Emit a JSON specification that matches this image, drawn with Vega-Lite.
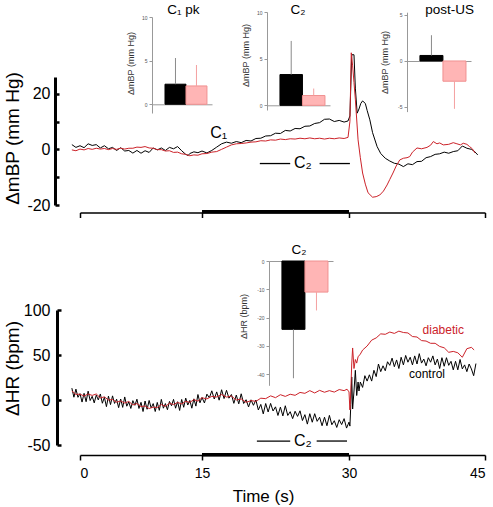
{
"$schema": "https://vega.github.io/schema/vega-lite/v6.json",
"width": 493, "height": 507, "autosize": "none", "padding": 0,
"background": "white",
"config": {"view": {"stroke": null}, "axis": {"grid": false, "labelFont": "Liberation Sans", "titleFont": "Liberation Sans", "titleFontWeight": "normal"}, "text": {"font": "Liberation Sans"}},
"datasets": {
"bpC": [{"t":-1.0,"v":1.7},{"t":-0.5,"v":0.7},{"t":0,"v":1.3},{"t":0.5,"v":0.6},{"t":1.0,"v":2.0},{"t":1.5,"v":1.4},{"t":2.0,"v":1.7},{"t":2.5,"v":0.5},{"t":3.0,"v":1.3},{"t":3.5,"v":0.2},{"t":4.0,"v":0.7},{"t":4.5,"v":-0.4},{"t":5.0,"v":0.6},{"t":5.5,"v":-0.6},{"t":6.0,"v":-0.4},{"t":6.5,"v":-1.35},{"t":7.0,"v":-0.4},{"t":7.5,"v":-1.4},{"t":8.0,"v":-0.5},{"t":8.5,"v":-1.1},{"t":9.0,"v":0.5},{"t":9.5,"v":-0.2},{"t":10.0,"v":0.5},{"t":10.5,"v":-0.4},{"t":11.0,"v":0.7},{"t":11.5,"v":0.2},{"t":12.0,"v":1.0},{"t":12.5,"v":-0.5},{"t":13.0,"v":-1.8},{"t":13.3,"v":-2.2},{"t":13.5,"v":-1.5},{"t":14.0,"v":-0.9},{"t":14.5,"v":-1.2},{"t":15.0,"v":-0.6},{"t":15.5,"v":-1.3},{"t":16.0,"v":-0.4},{"t":16.5,"v":0.8},{"t":17.0,"v":2.0},{"t":17.5,"v":2.6},{"t":18.0,"v":2.2},{"t":18.5,"v":2.8},{"t":19.0,"v":2.4},{"t":19.5,"v":3.2},{"t":20.0,"v":3.0},{"t":20.5,"v":3.9},{"t":21.0,"v":4.0},{"t":21.5,"v":4.8},{"t":22.0,"v":4.9},{"t":22.5,"v":5.8},{"t":23.0,"v":5.7},{"t":23.5,"v":6.8},{"t":24.0,"v":6.6},{"t":24.5,"v":7.5},{"t":25.0,"v":7.4},{"t":25.5,"v":8.3},{"t":26.0,"v":8.4},{"t":26.5,"v":9.3},{"t":27.0,"v":9.6},{"t":27.5,"v":10.8},{"t":28.0,"v":10.9},{"t":28.5,"v":10.0},{"t":29.0,"v":10.4},{"t":29.5,"v":9.8},{"t":29.9,"v":10.2},{"t":30.1,"v":12},{"t":30.3,"v":34},{"t":30.55,"v":34},{"t":30.7,"v":22},{"t":30.9,"v":13},{"t":31.1,"v":14.5},{"t":31.3,"v":16.5},{"t":31.5,"v":17.4},{"t":31.8,"v":16.5},{"t":32.0,"v":14},{"t":32.3,"v":10.6},{"t":32.6,"v":6},{"t":33.1,"v":1},{"t":33.5,"v":-1.5},{"t":34.0,"v":-3.2},{"t":34.5,"v":-4.2},{"t":35.0,"v":-5.0},{"t":35.5,"v":-5.3},{"t":36.0,"v":-6.2},{"t":36.5,"v":-5.2},{"t":37.0,"v":-5.5},{"t":37.5,"v":-4.4},{"t":38.0,"v":-4.3},{"t":38.5,"v":-3.0},{"t":39.0,"v":-2.6},{"t":39.5,"v":-1.8},{"t":40.0,"v":-1.6},{"t":40.5,"v":-1.0},{"t":41.0,"v":-1.4},{"t":41.5,"v":-0.8},{"t":42.0,"v":-0.5},{"t":42.5,"v":1.2},{"t":43.0,"v":0.4},{"t":43.5,"v":0.0},{"t":43.8,"v":-0.6},{"t":44.2,"v":-2}],
"bpD": [{"t":-1.0,"v":-0.2},{"t":-0.5,"v":-0.5},{"t":0,"v":0.1},{"t":0.5,"v":-0.2},{"t":1.0,"v":0.3},{"t":1.5,"v":0.0},{"t":2.0,"v":0.4},{"t":2.5,"v":0.1},{"t":3.0,"v":0.3},{"t":3.5,"v":-0.1},{"t":4.0,"v":0.3},{"t":4.5,"v":0.0},{"t":5.0,"v":0.4},{"t":5.5,"v":0.1},{"t":6.0,"v":0.4},{"t":6.5,"v":0.4},{"t":7.0,"v":0.8},{"t":7.5,"v":0.7},{"t":8.0,"v":1.0},{"t":8.5,"v":0.5},{"t":9.0,"v":0.4},{"t":9.5,"v":-0.1},{"t":10.0,"v":-0.1},{"t":10.5,"v":-0.6},{"t":11.0,"v":-0.5},{"t":11.5,"v":-1.1},{"t":12.0,"v":-1.0},{"t":12.5,"v":-1.6},{"t":13.0,"v":-1.8},{"t":13.5,"v":-2.3},{"t":14.0,"v":-2.0},{"t":14.5,"v":-2.1},{"t":15.0,"v":-1.6},{"t":15.5,"v":-1.5},{"t":16.0,"v":-1.0},{"t":16.5,"v":-0.8},{"t":17.0,"v":0.0},{"t":17.5,"v":0.8},{"t":18.0,"v":1.6},{"t":18.5,"v":2.0},{"t":19.0,"v":2.1},{"t":19.5,"v":2.3},{"t":20.0,"v":2.6},{"t":20.5,"v":2.7},{"t":21.0,"v":3.1},{"t":21.5,"v":3.0},{"t":22.0,"v":3.4},{"t":22.5,"v":3.3},{"t":23.0,"v":3.7},{"t":23.5,"v":3.5},{"t":24.0,"v":3.8},{"t":24.5,"v":3.7},{"t":25.0,"v":4.0},{"t":25.5,"v":3.8},{"t":26.0,"v":4.1},{"t":26.5,"v":3.8},{"t":27.0,"v":4.0},{"t":27.5,"v":3.7},{"t":28.0,"v":4.0},{"t":28.5,"v":3.8},{"t":29.0,"v":4.1},{"t":29.5,"v":3.9},{"t":29.9,"v":4.3},{"t":30.1,"v":10},{"t":30.25,"v":34.7},{"t":30.4,"v":30},{"t":30.55,"v":24},{"t":30.7,"v":18},{"t":31.0,"v":3.4},{"t":31.25,"v":-3},{"t":31.5,"v":-8.5},{"t":31.8,"v":-12.5},{"t":32.1,"v":-15.6},{"t":32.6,"v":-17.2},{"t":33.0,"v":-17},{"t":33.4,"v":-16.4},{"t":33.8,"v":-15},{"t":34.2,"v":-12.8},{"t":34.5,"v":-10.8},{"t":34.85,"v":-8.5},{"t":35.2,"v":-6},{"t":35.6,"v":-3.8},{"t":36.0,"v":-3.2},{"t":36.4,"v":-3.0},{"t":36.7,"v":-2.6},{"t":37.0,"v":-1.0},{"t":37.5,"v":0.5},{"t":38.0,"v":0.2},{"t":38.6,"v":0.7},{"t":39.0,"v":1.5},{"t":39.3,"v":2.8},{"t":39.7,"v":2.0},{"t":40.0,"v":2.3},{"t":40.4,"v":1.6},{"t":41.0,"v":1.8},{"t":41.5,"v":2.4},{"t":41.9,"v":2.0},{"t":42.3,"v":1.6},{"t":42.6,"v":2.2},{"t":43.0,"v":1.8},{"t":43.3,"v":1.0},{"t":43.6,"v":0.2},{"t":43.9,"v":-1.3}],
"hrC": [{"t":-1.0,"v":13.2},{"t":-0.75,"v":3.1},{"t":-0.5,"v":12.1},{"t":-0.25,"v":3.0},{"t":0,"v":7.0},{"t":0.25,"v":-2.3},{"t":0.5,"v":7.4},{"t":0.75,"v":-1.9},{"t":1.0,"v":9.8},{"t":1.25,"v":-0.6},{"t":1.5,"v":4.1},{"t":1.75,"v":-3.2},{"t":2.0,"v":5.4},{"t":2.25,"v":0.1},{"t":2.5,"v":6.7},{"t":2.75,"v":-3.6},{"t":3.0,"v":3.0},{"t":3.25,"v":-7.4},{"t":3.5,"v":4.3},{"t":3.75,"v":-5.1},{"t":4.0,"v":4.6},{"t":4.25,"v":-3.8},{"t":4.5,"v":0.9},{"t":4.75,"v":-8.5},{"t":5.0,"v":1.1},{"t":5.25,"v":-8.2},{"t":5.5,"v":3.4},{"t":5.75,"v":-6.9},{"t":6.0,"v":-2.2},{"t":6.25,"v":-9.4},{"t":6.5,"v":-0.7},{"t":6.75,"v":-5.9},{"t":7.0,"v":0.9},{"t":7.25,"v":-9.4},{"t":7.5,"v":-2.6},{"t":7.75,"v":-12.8},{"t":8.0,"v":-1.1},{"t":8.25,"v":-10.3},{"t":8.5,"v":-0.5},{"t":8.75,"v":-8.8},{"t":9.0,"v":-4.0},{"t":9.25,"v":-12.8},{"t":9.5,"v":-2.7},{"t":9.75,"v":-11.5},{"t":10.0,"v":0.7},{"t":10.25,"v":-9.1},{"t":10.5,"v":-4.0},{"t":10.75,"v":-10.8},{"t":11.0,"v":-1.6},{"t":11.25,"v":-6.4},{"t":11.5,"v":0.7},{"t":11.75,"v":-9.1},{"t":12.0,"v":-1.9},{"t":12.25,"v":-11.6},{"t":12.5,"v":0.6},{"t":12.75,"v":-8.1},{"t":13.0,"v":2.1},{"t":13.25,"v":-5.6},{"t":13.5,"v":-0.4},{"t":13.75,"v":-9.1},{"t":14.0,"v":1.3},{"t":14.25,"v":-6.8},{"t":14.5,"v":6.1},{"t":14.75,"v":-3.1},{"t":15.0,"v":2.8},{"t":15.25,"v":-3.3},{"t":15.5,"v":6.5},{"t":15.75,"v":2.4},{"t":16.0,"v":10.2},{"t":16.25,"v":1.1},{"t":16.5,"v":9.0},{"t":16.75,"v":-0.2},{"t":17.0,"v":11.4},{"t":17.25,"v":1.6},{"t":17.5,"v":10.8},{"t":17.75,"v":2.0},{"t":18.0,"v":6.1},{"t":18.25,"v":-3.7},{"t":18.5,"v":5.5},{"t":18.75,"v":-4.3},{"t":19.0,"v":6.9},{"t":19.25,"v":-3.9},{"t":19.5,"v":0.3},{"t":19.75,"v":-7.7},{"t":20.0,"v":0.2},{"t":20.25,"v":-5.9},{"t":20.5,"v":0.0},{"t":20.75,"v":-11.1},{"t":21.0,"v":-4.9},{"t":21.25,"v":-15.4},{"t":21.5,"v":-3.9},{"t":21.75,"v":-13.3},{"t":22.0,"v":-3.8},{"t":22.25,"v":-12.2},{"t":22.5,"v":-7.6},{"t":22.75,"v":-17.2},{"t":23.0,"v":-7.9},{"t":23.25,"v":-17.7},{"t":23.5,"v":-6.4},{"t":23.75,"v":-17.2},{"t":24.0,"v":-13.0},{"t":24.25,"v":-20.7},{"t":24.5,"v":-12.5},{"t":24.75,"v":-18.2},{"t":25.0,"v":-12.0},{"t":25.25,"v":-22.8},{"t":25.5,"v":-16.3},{"t":25.75,"v":-26.8},{"t":26.0,"v":-15.2},{"t":26.25,"v":-24.7},{"t":26.5,"v":-15.2},{"t":26.75,"v":-23.7},{"t":27.0,"v":-19.2},{"t":27.25,"v":-28.6},{"t":27.5,"v":-19.1},{"t":27.75,"v":-28.6},{"t":28.0,"v":-17.1},{"t":28.25,"v":-27.5},{"t":28.5,"v":-23.0},{"t":28.75,"v":-30.5},{"t":29.0,"v":-21.9},{"t":29.25,"v":-27.3},{"t":29.5,"v":-20.7},{"t":29.75,"v":-31.2},{"t":30.0,"v":-24.6},{"t":30.1,"v":-29},{"t":30.2,"v":-5},{"t":30.3,"v":25.6},{"t":30.4,"v":-10},{"t":30.55,"v":10},{"t":30.7,"v":33},{"t":30.85,"v":5},{"t":31.0,"v":20},{"t":31.1,"v":10},{"t":31.25,"v":20},{"t":31.5,"v":14},{"t":31.75,"v":27},{"t":32.0,"v":21},{"t":32.25,"v":28},{"t":32.5,"v":21},{"t":32.75,"v":33},{"t":33.0,"v":26},{"t":33.25,"v":40},{"t":33.5,"v":31.5},{"t":33.75,"v":38},{"t":34.0,"v":32.5},{"t":34.25,"v":42.5},{"t":34.5,"v":38.5},{"t":34.75,"v":46.5},{"t":35.0,"v":37},{"t":35.25,"v":44.5},{"t":35.5,"v":35},{"t":35.75,"v":47.5},{"t":36.0,"v":39},{"t":36.25,"v":49.5},{"t":36.5,"v":42},{"t":36.75,"v":47.5},{"t":37.0,"v":39},{"t":37.25,"v":49},{"t":37.5,"v":40},{"t":37.75,"v":51.5},{"t":38.0,"v":41},{"t":38.25,"v":45.5},{"t":38.5,"v":38},{"t":38.75,"v":47},{"t":39.0,"v":42},{"t":39.25,"v":49},{"t":39.5,"v":39},{"t":39.75,"v":45.5},{"t":40.0,"v":35},{"t":40.25,"v":47},{"t":40.5,"v":37.5},{"t":40.75,"v":47},{"t":41.0,"v":38.5},{"t":41.25,"v":43},{"t":41.5,"v":33.5},{"t":41.75,"v":43},{"t":42.0,"v":33.5},{"t":42.25,"v":45},{"t":42.5,"v":34.5},{"t":42.75,"v":39},{"t":43.0,"v":31.5},{"t":43.25,"v":40},{"t":43.5,"v":34.5},{"t":43.75,"v":27},{"t":44.0,"v":40.5}],
"hrD": [{"t":-1.0,"v":10},{"t":-0.5,"v":6.2},{"t":0,"v":6.5},{"t":0.5,"v":4.4},{"t":1.0,"v":6.7},{"t":1.5,"v":5.1},{"t":2.0,"v":6.7},{"t":2.5,"v":2.3},{"t":3.0,"v":3.5},{"t":3.5,"v":0},{"t":4.0,"v":0.5},{"t":4.5,"v":-2.5},{"t":5.0,"v":-1},{"t":5.5,"v":-3.4},{"t":6.0,"v":-1.6},{"t":6.5,"v":-5.5},{"t":7.0,"v":-3.9},{"t":7.5,"v":-7.3},{"t":8.0,"v":-6.6},{"t":8.5,"v":-9.5},{"t":9.0,"v":-7.9},{"t":9.5,"v":-8.4},{"t":10.0,"v":-5},{"t":10.5,"v":-7.1},{"t":11.0,"v":-3.6},{"t":11.5,"v":-5.1},{"t":12.0,"v":-2.7},{"t":12.5,"v":-4.4},{"t":13.0,"v":-1.5},{"t":13.5,"v":-2.7},{"t":14.0,"v":0.4},{"t":14.5,"v":-1.3},{"t":15.0,"v":2.5},{"t":15.5,"v":1.2},{"t":16.0,"v":4},{"t":16.5,"v":3.3},{"t":17.0,"v":6.1},{"t":17.5,"v":3.2},{"t":18.0,"v":4.4},{"t":18.5,"v":0},{"t":19.0,"v":1.2},{"t":19.5,"v":-2.6},{"t":20.0,"v":-0.7},{"t":20.5,"v":-1.5},{"t":21.0,"v":2},{"t":21.5,"v":1.5},{"t":22.0,"v":4.6},{"t":22.5,"v":2.6},{"t":23.0,"v":5.9},{"t":23.5,"v":4},{"t":24.0,"v":6.4},{"t":24.5,"v":5.2},{"t":25.0,"v":8.4},{"t":25.5,"v":7.4},{"t":26.0,"v":10.4},{"t":26.5,"v":7.8},{"t":27.0,"v":10.7},{"t":27.5,"v":8.6},{"t":28.0,"v":10.4},{"t":28.5,"v":8.8},{"t":29.0,"v":11.6},{"t":29.5,"v":10.4},{"t":29.8,"v":12},{"t":30.0,"v":9},{"t":30.1,"v":-11},{"t":30.2,"v":10},{"t":30.3,"v":40},{"t":30.4,"v":57.8},{"t":30.55,"v":35},{"t":30.7,"v":45},{"t":30.85,"v":41},{"t":31.0,"v":48},{"t":31.25,"v":51},{"t":31.5,"v":55.5},{"t":32.0,"v":60},{"t":32.5,"v":66.5},{"t":33.0,"v":69},{"t":33.5,"v":73.5},{"t":34.0,"v":73},{"t":34.5,"v":75.5},{"t":35.0,"v":74},{"t":35.5,"v":76.5},{"t":36.0,"v":75},{"t":36.5,"v":74.5},{"t":37.0,"v":70.5},{"t":37.5,"v":70},{"t":38.0,"v":66},{"t":38.5,"v":65.5},{"t":39.0,"v":63},{"t":39.5,"v":63},{"t":40.0,"v":59.5},{"t":40.5,"v":58},{"t":41.0,"v":53},{"t":41.5,"v":54},{"t":42.0,"v":52.5},{"t":42.5,"v":47.5},{"t":43.0,"v":57},{"t":43.5,"v":58.5},{"t":43.8,"v":55.6}],
"b1": [{"g":"control","v":2.3,"e":5.3},{"g":"diabetic","v":2.1,"e":4.5}],
"b2": [{"g":"control","v":3.3,"e":6.9},{"g":"diabetic","v":1.05,"e":1.8}],
"b3": [{"g":"control","v":0.6,"e":2.8},{"g":"diabetic","v":-2.2,"e":-5.2}],
"b4": [{"g":"control","v":-24.2,"e":-41.5},{"g":"diabetic","v":-11,"e":-17.5}]
},
"resolve": {"scale": {"x": "independent", "y": "independent"}},
"layer": [
{"layer": [
 {"data": {"name": "bpC"}, "mark": {"type": "line", "color": "#000000", "strokeWidth": 1},
  "encoding": {
   "x": {"field": "t", "type": "quantitative", "scale": {"domain": [0,15,30,45], "range": [80,202,349,485], "nice": false, "zero": false},
     "axis": {"orient": "bottom", "offset": -294.5, "values": [0,15,30,45], "labels": false, "title": null, "domainColor": "#000", "domainWidth": 1.5, "tickColor": "#000", "tickWidth": 1.5, "tickSize": 5}},
   "y": {"field": "v", "type": "quantitative", "scale": {"domain": [-20,26], "range": [205,77], "nice": false, "zero": false},
     "axis": {"orient": "left", "offset": -55, "values": [-20,-10,0,10,20], "labelExpr": "datum.value % 20 == 0 ? '' + datum.value : ''", "domainColor": "#000", "domainWidth": 3, "tickColor": "#000", "tickWidth": 2.5, "tickSize": -4, "labelFontSize": 16, "labelColor": "#000", "labelPadding": 9, "title": "ΔmBP (mm Hg)", "titleFontSize": 19, "titleColor": "#000", "titleX": -43, "titleY": 138, "titleAngle": -90, "titleAlign": "center", "titleBaseline": "middle"}}}},
 {"data": {"name": "bpD"}, "mark": {"type": "line", "color": "#cc2229", "strokeWidth": 1},
  "encoding": {"x": {"field": "t", "type": "quantitative"}, "y": {"field": "v", "type": "quantitative"}}},
 {"data": {"values": [{"t": 15, "t2": 30, "v": -22.4}]}, "mark": {"type": "rule", "color": "#000", "strokeWidth": 3.5},
  "encoding": {"x": {"field": "t", "type": "quantitative"}, "x2": {"field": "t2"}, "y": {"field": "v", "type": "quantitative"}}},
 {"data": {"values": [{"t": 20.9, "t2": 24.0, "v": -5.1}, {"t": 27.0, "t2": 30.1, "v": -5.1}]}, "mark": {"type": "rule", "color": "#000", "strokeWidth": 1.3},
  "encoding": {"x": {"field": "t", "type": "quantitative"}, "x2": {"field": "t2"}, "y": {"field": "v", "type": "quantitative"}}},
 {"data": {"values": [{"t": 16.7, "v": 5.9, "label": "C₁"}, {"t": 25.3, "v": -4.9, "label": "C₂"}]}, "mark": {"type": "text", "fontSize": 16, "align": "center", "baseline": "middle", "color": "#000"},
  "encoding": {"x": {"field": "t", "type": "quantitative"}, "y": {"field": "v", "type": "quantitative"}, "text": {"field": "label"}}},
 {"data": {"values": [{"t": 12.7, "v": 50, "label": "C₁ pk"}, {"t": 24.8, "v": 50, "label": "C₂"}, {"t": 41.1, "v": 50, "label": "post-US"}]}, "mark": {"type": "text", "fontSize": 13.5, "align": "center", "baseline": "middle", "color": "#000"},
  "encoding": {"x": {"field": "t", "type": "quantitative"}, "y": {"field": "v", "type": "quantitative"}, "text": {"field": "label"}}}
]},
{"layer": [
 {"data": {"name": "hrC"}, "mark": {"type": "line", "color": "#000000", "strokeWidth": 1},
  "encoding": {
   "x": {"field": "t", "type": "quantitative", "scale": {"domain": [0,15,30,45], "range": [80,202,349,485], "nice": false, "zero": false},
     "axis": {"orient": "bottom", "offset": -52, "values": [0,15,30,45], "domainColor": "#000", "domainWidth": 1.5, "tickColor": "#000", "tickWidth": 1.5, "tickSize": 5, "labelFontSize": 14, "labelColor": "#000", "labelPadding": 6, "labelExpr": "'' + datum.value", "title": "Time (s)", "titleFontSize": 17, "titleColor": "#000", "titleX": 263, "titleY": 41, "titleAlign": "center", "titleBaseline": "middle"}},
   "y": {"field": "v", "type": "quantitative", "scale": {"domain": [-50,100], "range": [445,310], "nice": false, "zero": false},
     "axis": {"orient": "left", "offset": -57, "values": [-50,0,50,100], "labelExpr": "'' + datum.value", "domainColor": "#000", "domainWidth": 3, "tickColor": "#000", "tickWidth": 2.5, "tickSize": -4, "labelFontSize": 16, "labelColor": "#000", "labelPadding": 11, "title": "ΔHR (bpm)", "titleFontSize": 19, "titleColor": "#000", "titleX": -45, "titleY": 368, "titleAngle": -90, "titleAlign": "center", "titleBaseline": "middle"}}}},
 {"data": {"name": "hrD"}, "mark": {"type": "line", "color": "#cc2229", "strokeWidth": 1},
  "encoding": {"x": {"field": "t", "type": "quantitative"}, "y": {"field": "v", "type": "quantitative"}}},
 {"data": {"values": [{"t": 15, "t2": 30, "v": -60.8}]}, "mark": {"type": "rule", "color": "#000", "strokeWidth": 3.5},
  "encoding": {"x": {"field": "t", "type": "quantitative"}, "x2": {"field": "t2"}, "y": {"field": "v", "type": "quantitative"}}},
 {"data": {"values": [{"t": 20.6, "t2": 24.0, "v": -45.6}, {"t": 26.7, "t2": 29.8, "v": -45.6}]}, "mark": {"type": "rule", "color": "#000", "strokeWidth": 1.3},
  "encoding": {"x": {"field": "t", "type": "quantitative"}, "x2": {"field": "t2"}, "y": {"field": "v", "type": "quantitative"}}},
 {"data": {"values": [{"t": 25.3, "v": -45.6, "label": "C₂"}]}, "mark": {"type": "text", "fontSize": 16, "align": "center", "baseline": "middle", "color": "#000"},
  "encoding": {"x": {"field": "t", "type": "quantitative"}, "y": {"field": "v", "type": "quantitative"}, "text": {"field": "label"}}},
 {"data": {"values": [{"t": 24.9, "v": 166.7, "label": "C₂"}]}, "mark": {"type": "text", "fontSize": 13.5, "align": "center", "baseline": "middle", "color": "#000"},
  "encoding": {"x": {"field": "t", "type": "quantitative"}, "y": {"field": "v", "type": "quantitative"}, "text": {"field": "label"}}},
 {"data": {"values": [{"t": 40.4, "v": 77.8, "label": "diabetic"}]}, "mark": {"type": "text", "fontSize": 12, "align": "center", "baseline": "middle", "color": "#cc2229"},
  "encoding": {"x": {"field": "t", "type": "quantitative"}, "y": {"field": "v", "type": "quantitative"}, "text": {"field": "label"}}},
 {"data": {"values": [{"t": 38.6, "v": 28.9, "label": "control"}]}, "mark": {"type": "text", "fontSize": 12, "align": "center", "baseline": "middle", "color": "#000"},
  "encoding": {"x": {"field": "t", "type": "quantitative"}, "y": {"field": "v", "type": "quantitative"}, "text": {"field": "label"}}}
]},
{"data": {"name": "b1"}, "layer": [
 {"mark": {"type": "bar", "strokeWidth": 1},
  "encoding": {
   "x": {"field": "g", "type": "nominal", "scale": {"type": "band", "domain": ["control","diabetic"], "range": [152,212], "paddingInner": 0, "paddingOuter": 0.43, "align": 0.72},
     "axis": {"orient": "bottom", "offset": -402.7, "labels": false, "ticks": false, "title": null, "domainColor": "#999", "domainWidth": 1}},
   "y": {"field": "v", "type": "quantitative", "scale": {"domain": [-1,10], "range": [113,17], "nice": false},
     "axis": {"orient": "left", "offset": -152, "values": [0,5,10], "labelExpr": "'' + datum.value", "domainColor": "#999", "domainWidth": 1, "tickColor": "#999", "tickSize": 3, "tickWidth": 1, "labelFontSize": 5, "labelColor": "#555", "labelPadding": 2, "title": "ΔmBP (mm Hg)", "titleFontSize": 9, "titleColor": "#333", "titleX": -22, "titleY": 63, "titleAngle": -90, "titleAlign": "center", "titleBaseline": "middle"}},
   "fill": {"field": "g", "type": "nominal", "scale": {"domain": ["control","diabetic"], "range": ["#000000","#ffb5b5"]}, "legend": null},
   "stroke": {"field": "g", "type": "nominal", "scale": {"domain": ["control","diabetic"], "range": ["#000000","#f09090"]}, "legend": null}}},
 {"mark": {"type": "rule", "strokeWidth": 1},
  "encoding": {"x": {"field": "g", "type": "nominal"}, "y": {"field": "v", "type": "quantitative"}, "y2": {"field": "e"},
   "color": {"field": "g", "type": "nominal", "scale": {"domain": ["control","diabetic"], "range": ["#8a8a8a","#f4a0a0"]}, "legend": null}}}
]},
{"data": {"name": "b2"}, "layer": [
 {"mark": {"type": "bar", "strokeWidth": 1},
  "encoding": {
   "x": {"field": "g", "type": "nominal", "scale": {"type": "band", "domain": ["control","diabetic"], "range": [267,330], "paddingInner": 0, "paddingOuter": 0.4, "align": 0.72},
     "axis": {"orient": "bottom", "offset": -401.7, "labels": false, "ticks": false, "title": null, "domainColor": "#999", "domainWidth": 1}},
   "y": {"field": "v", "type": "quantitative", "scale": {"domain": [-0.5,10], "range": [110,12], "nice": false},
     "axis": {"orient": "left", "offset": -267, "values": [0,5,10], "labelExpr": "'' + datum.value", "domainColor": "#999", "domainWidth": 1, "tickColor": "#999", "tickSize": 3, "tickWidth": 1, "labelFontSize": 5, "labelColor": "#555", "labelPadding": 2, "title": "ΔmBP (mm Hg)", "titleFontSize": 9, "titleColor": "#333", "titleX": -22, "titleY": 55, "titleAngle": -90, "titleAlign": "center", "titleBaseline": "middle"}},
   "fill": {"field": "g", "type": "nominal", "scale": {"domain": ["control","diabetic"], "range": ["#000000","#ffb5b5"]}, "legend": null},
   "stroke": {"field": "g", "type": "nominal", "scale": {"domain": ["control","diabetic"], "range": ["#000000","#f09090"]}, "legend": null}}},
 {"mark": {"type": "rule", "strokeWidth": 1},
  "encoding": {"x": {"field": "g", "type": "nominal"}, "y": {"field": "v", "type": "quantitative"}, "y2": {"field": "e"},
   "color": {"field": "g", "type": "nominal", "scale": {"domain": ["control","diabetic"], "range": ["#8a8a8a","#f4a0a0"]}, "legend": null}}}
]},
{"data": {"name": "b3"}, "layer": [
 {"mark": {"type": "bar", "strokeWidth": 1},
  "encoding": {
   "x": {"field": "g", "type": "nominal", "scale": {"type": "band", "domain": ["control","diabetic"], "range": [407,471], "paddingInner": 0, "paddingOuter": 0.39, "align": 0.72},
     "axis": {"orient": "bottom", "offset": -446, "labels": false, "ticks": false, "title": null, "domainColor": "#999", "domainWidth": 1}},
   "y": {"field": "v", "type": "quantitative", "scale": {"domain": [-5.5,5.3], "range": [111.6,12.2], "nice": false},
     "axis": {"orient": "left", "offset": -407, "values": [-5,0,5], "labelExpr": "'' + datum.value", "domainColor": "#999", "domainWidth": 1, "tickColor": "#999", "tickSize": 3, "tickWidth": 1, "labelFontSize": 5, "labelColor": "#555", "labelPadding": 2, "title": "ΔmBP (mm Hg)", "titleFontSize": 9, "titleColor": "#333", "titleX": -23, "titleY": 62, "titleAngle": -90, "titleAlign": "center", "titleBaseline": "middle"}},
   "fill": {"field": "g", "type": "nominal", "scale": {"domain": ["control","diabetic"], "range": ["#000000","#ffb5b5"]}, "legend": null},
   "stroke": {"field": "g", "type": "nominal", "scale": {"domain": ["control","diabetic"], "range": ["#000000","#f09090"]}, "legend": null}}},
 {"mark": {"type": "rule", "strokeWidth": 1},
  "encoding": {"x": {"field": "g", "type": "nominal"}, "y": {"field": "v", "type": "quantitative"}, "y2": {"field": "e"},
   "color": {"field": "g", "type": "nominal", "scale": {"domain": ["control","diabetic"], "range": ["#8a8a8a","#f4a0a0"]}, "legend": null}}}
]},
{"data": {"name": "b4"}, "layer": [
 {"mark": {"type": "bar", "strokeWidth": 1},
  "encoding": {
   "x": {"field": "g", "type": "nominal", "scale": {"type": "band", "domain": ["control","diabetic"], "range": [269,333], "paddingInner": 0, "paddingOuter": 0.39, "align": 0.72},
     "axis": {"orient": "bottom", "offset": -246, "labels": false, "ticks": false, "title": null, "domainColor": "#999", "domainWidth": 1}},
   "y": {"field": "v", "type": "quantitative", "scale": {"domain": [-44,0], "range": [385.3,261], "nice": false},
     "axis": {"orient": "left", "offset": -269, "values": [0,-10,-20,-30,-40], "labelExpr": "'' + datum.value", "domainColor": "#999", "domainWidth": 1, "tickColor": "#999", "tickSize": 3, "tickWidth": 1, "labelFontSize": 5, "labelColor": "#555", "labelPadding": 2, "title": "ΔHR (bpm)", "titleFontSize": 9, "titleColor": "#333", "titleX": -26, "titleY": 316, "titleAngle": -90, "titleAlign": "center", "titleBaseline": "middle"}},
   "fill": {"field": "g", "type": "nominal", "scale": {"domain": ["control","diabetic"], "range": ["#000000","#ffb5b5"]}, "legend": null},
   "stroke": {"field": "g", "type": "nominal", "scale": {"domain": ["control","diabetic"], "range": ["#000000","#f09090"]}, "legend": null}}},
 {"mark": {"type": "rule", "strokeWidth": 1},
  "encoding": {"x": {"field": "g", "type": "nominal"}, "y": {"field": "v", "type": "quantitative"}, "y2": {"field": "e"},
   "color": {"field": "g", "type": "nominal", "scale": {"domain": ["control","diabetic"], "range": ["#8a8a8a","#f4a0a0"]}, "legend": null}}}
]}
]
}
